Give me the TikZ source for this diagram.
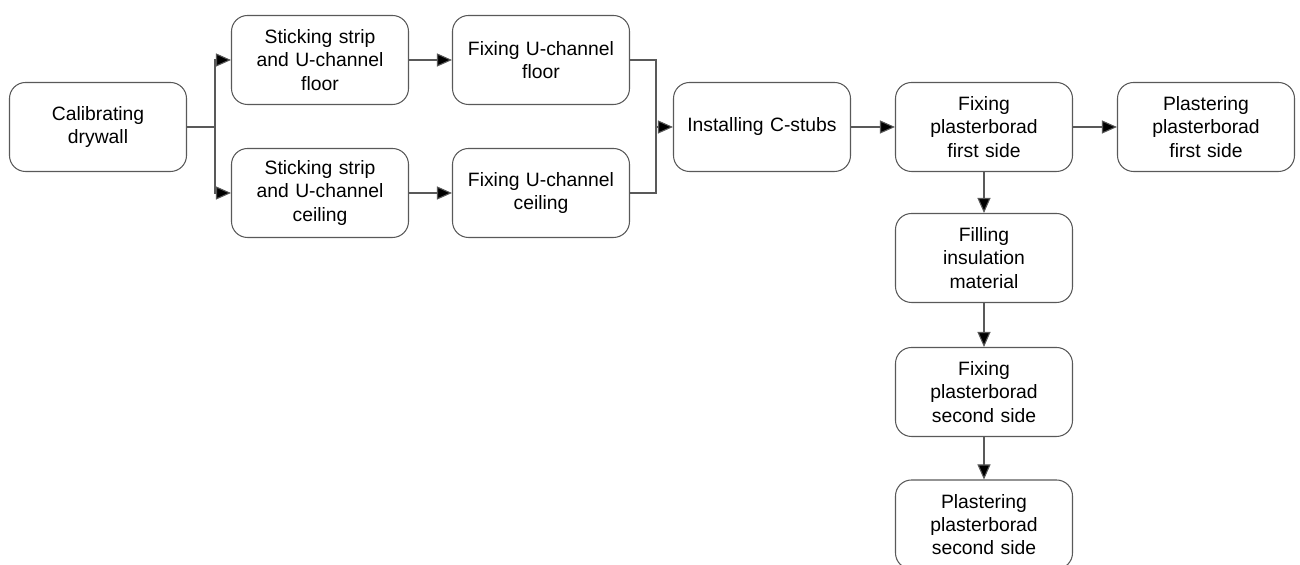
\documentclass[tikz,border=0pt]{standalone}
\usepackage{fontspec}
\setmainfont{Liberation Sans}
\usetikzlibrary{arrows.meta}

\begin{document}
\begin{tikzpicture}[
        stepbox/.style={rectangle, rounded corners=0.32cm, draw=black!65, line width=0.6pt,
            minimum width=3.54cm, minimum height=1.78cm, text width=3.3cm, align=center,
            font=\fontsize{11}{13.3}\selectfont},
        flow/.style={draw=black!65, line width=0.6pt, -{Triangle[length=0.3cm, width=0.26cm, fill=black]}}
    ]
            \useasboundingbox (0,0) rectangle (26,11.3);

            % Define steps
            \node[stepbox] (cal) at (1.96,8.76) {Calibrating\\drywall};
            \node[stepbox] (ssf) at (6.40,10.10) {Sticking strip\\and U-channel\\floor};
            \node[stepbox] (ssc) at (6.40,7.44) {Sticking strip\\and U-channel\\ceiling};
            \node[stepbox] (fuf) at (10.82,10.10) {Fixing U-channel\\floor};
            \node[stepbox] (fuc) at (10.82,7.44) {Fixing U-channel\\ceiling};
            \node[stepbox] (ics) at (15.24,8.76) {Installing C-stubs};
            \node[stepbox] (fp1) at (19.68,8.76) {Fixing\\plasterborad\\first side};
            \node[stepbox] (pp1) at (24.12,8.76) {Plastering\\plasterborad\\first side};
            \node[stepbox] (fim) at (19.68,6.14) {Filling\\insulation\\material};
            \node[stepbox] (fp2) at (19.68,3.46) {Fixing\\plasterborad\\second side};
            \node[stepbox] (pp2) at (19.68,0.81) {Plastering\\plasterborad\\second side};

            % Split and join points
            \coordinate (split) at (4.30,8.76);
            \coordinate (join) at (13.12,8.76);

            % Draw edges with arrows
            \draw[draw=black!65, line width=0.6pt] (cal) -- (split);
            \draw[flow] (split) |- (ssf);
            \draw[flow] (split) |- (ssc);
            \draw[flow] (ssf) -- (fuf);
            \draw[flow] (ssc) -- (fuc);
            \draw[draw=black!65, line width=0.6pt] (fuf.east) -| (join);
            \draw[draw=black!65, line width=0.6pt] (fuc.east) -| (join);
            \draw[flow] (join) -- (ics);
            \draw[flow] (ics) -- (fp1);
            \draw[flow] (fp1) -- (pp1);
            \draw[flow] (fp1) -- (fim);
            \draw[flow] (fim) -- (fp2);
            \draw[flow] (fp2) -- (pp2);
        \end{tikzpicture}
\end{document}
